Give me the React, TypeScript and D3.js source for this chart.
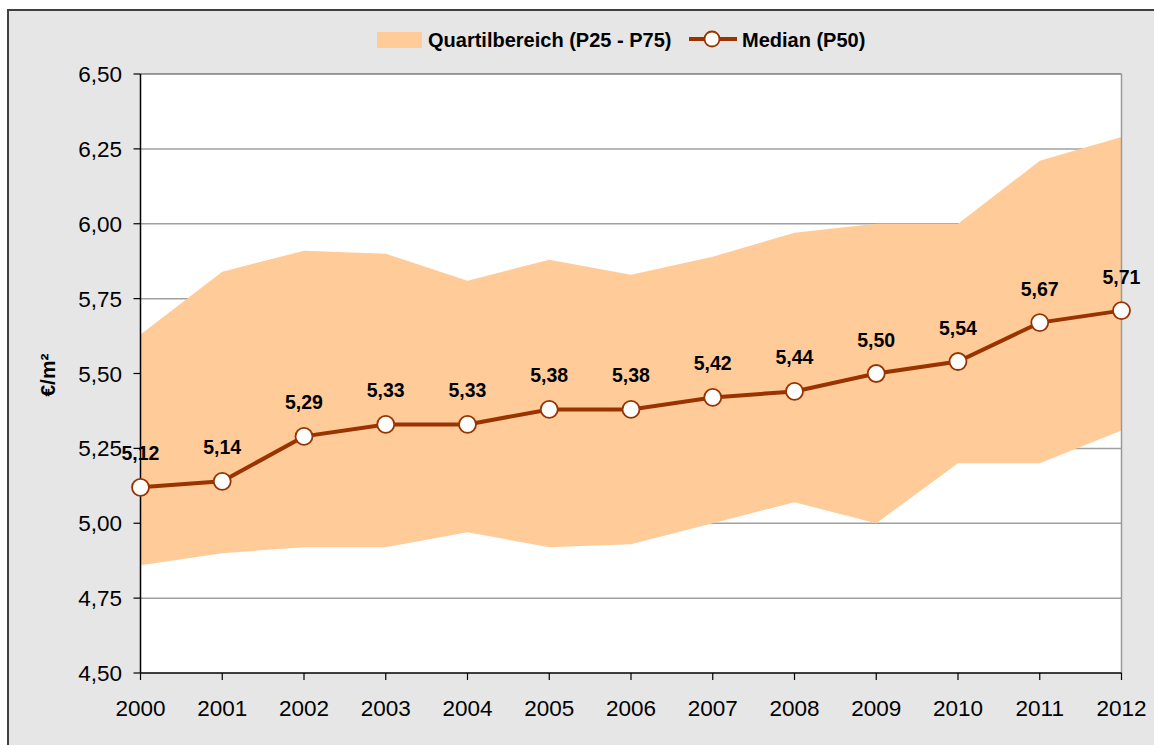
import React from 'react';
import * as d3 from 'd3';

// Werte (€/m²)
const years = ['2000', '2001', '2002', '2003', '2004', '2005', '2006', '2007', '2008', '2009', '2010', '2011', '2012'];
const p25 = [4.86, 4.90, 4.92, 4.92, 4.97, 4.92, 4.93, 5.00, 5.07, 5.00, 5.20, 5.20, 5.31];
const p75 = [5.63, 5.84, 5.91, 5.90, 5.81, 5.88, 5.83, 5.89, 5.97, 6.00, 6.00, 6.21, 6.29];
const median = [5.12, 5.14, 5.29, 5.33, 5.33, 5.38, 5.38, 5.42, 5.44, 5.50, 5.54, 5.67, 5.71];
const yTicks = [4.5, 4.75, 5.0, 5.25, 5.5, 5.75, 6.0, 6.25, 6.5];

const W = 1154;
const H = 745;
const plot = { left: 140.5, right: 1121.5, top: 74, bottom: 673 };

const de = d3.formatLocale({ decimal: ',', thousands: '.', grouping: [3], currency: ['', ' €'] });
const fmt = de.format('.2f');

const x = d3.scalePoint<string>().domain(years).range([plot.left, plot.right]);
const y = d3.scaleLinear().domain([4.5, 6.5]).range([plot.bottom, plot.top]);

const rows = years.map((yr, i) => ({ yr, lo: p25[i], hi: p75[i], med: median[i] }));

const band = d3.area<typeof rows[0]>()
  .x(d => x(d.yr)!)
  .y0(d => y(d.lo))
  .y1(d => y(d.hi));

const medLine = d3.line<typeof rows[0]>()
  .x(d => x(d.yr)!)
  .y(d => y(d.med));

const font = 'Liberation Sans, Arial, sans-serif';
const bandColor = '#FFCC99';
const lineColor = '#993300';

export default function App() {
  return (
    <svg width={W} height={H} style={{ position: 'absolute', left: 0, top: 0 }} fontFamily={font}>
      {/* Rahmen */}
      <rect x={8} y={10} width={W + 10} height={H + 10} fill="#e6e6e6" stroke="#404040" strokeWidth={2} />

      {/* Zeichenfläche */}
      <rect x={plot.left} y={plot.top} width={plot.right - plot.left} height={plot.bottom - plot.top} fill="#fff" />
      {yTicks.slice(1, -1).map(t => (
        <line key={t} x1={plot.left} x2={plot.right} y1={y(t)} y2={y(t)} stroke="#a0a0a0" strokeWidth={1.5} />
      ))}

      <path d={band(rows)!} fill={bandColor} />

      <line x1={plot.left} x2={plot.right} y1={plot.top} y2={plot.top} stroke="#404040" strokeWidth={1.2} />
      <line x1={plot.right} x2={plot.right} y1={plot.top} y2={plot.bottom} stroke="#9a9a9a" strokeWidth={1.5} />

      {/* Achsen */}
      <line x1={plot.left} x2={plot.left} y1={plot.top} y2={plot.bottom} stroke="#000" strokeWidth={1.5} />
      <line x1={plot.left} x2={plot.right} y1={plot.bottom} y2={plot.bottom} stroke="#000" strokeWidth={1.5} />
      {yTicks.map(t => (
        <g key={t}>
          <line x1={plot.left - 7} x2={plot.left} y1={y(t)} y2={y(t)} stroke="#000" strokeWidth={1.2} />
          <text x={122} y={y(t)} dy="0.36em" textAnchor="end" fontSize={22.5} fill="#000">{fmt(t)}</text>
        </g>
      ))}
      {years.map(yr => (
        <g key={yr}>
          <line x1={x(yr)} x2={x(yr)} y1={plot.bottom} y2={plot.bottom + 7} stroke="#000" strokeWidth={1.2} />
          <text x={x(yr)} y={716} textAnchor="middle" fontSize={22.5} fill="#000">{yr}</text>
        </g>
      ))}
      <text transform="translate(55,375) rotate(-90)" textAnchor="middle" fontSize={21} fontWeight="bold" fill="#000">€/m²</text>

      {/* Median */}
      <path d={medLine(rows)!} fill="none" stroke={lineColor} strokeWidth={4} />
      {rows.map(d => (
        <g key={d.yr}>
          <circle cx={x(d.yr)} cy={y(d.med)} r={8.5} fill="#fff" stroke={lineColor} strokeWidth={1.8} />
          <text x={x(d.yr)} y={y(d.med) - 27} textAnchor="middle" fontSize={19.5} fontWeight="bold" fill="#000">{fmt(d.med)}</text>
        </g>
      ))}

      {/* Legende */}
      <rect x={377} y={32} width={45} height={16} fill={bandColor} />
      <text x={428} y={47} fontSize={20} fontWeight="bold" fill="#000">Quartilbereich (P25 - P75)</text>
      <line x1={689} x2={737} y1={39} y2={39} stroke={lineColor} strokeWidth={4} />
      <circle cx={712} cy={39} r={7.5} fill="#fff" stroke={lineColor} strokeWidth={1.8} />
      <text x={742} y={47} fontSize={20} fontWeight="bold" fill="#000">Median (P50)</text>
    </svg>
  );
}
